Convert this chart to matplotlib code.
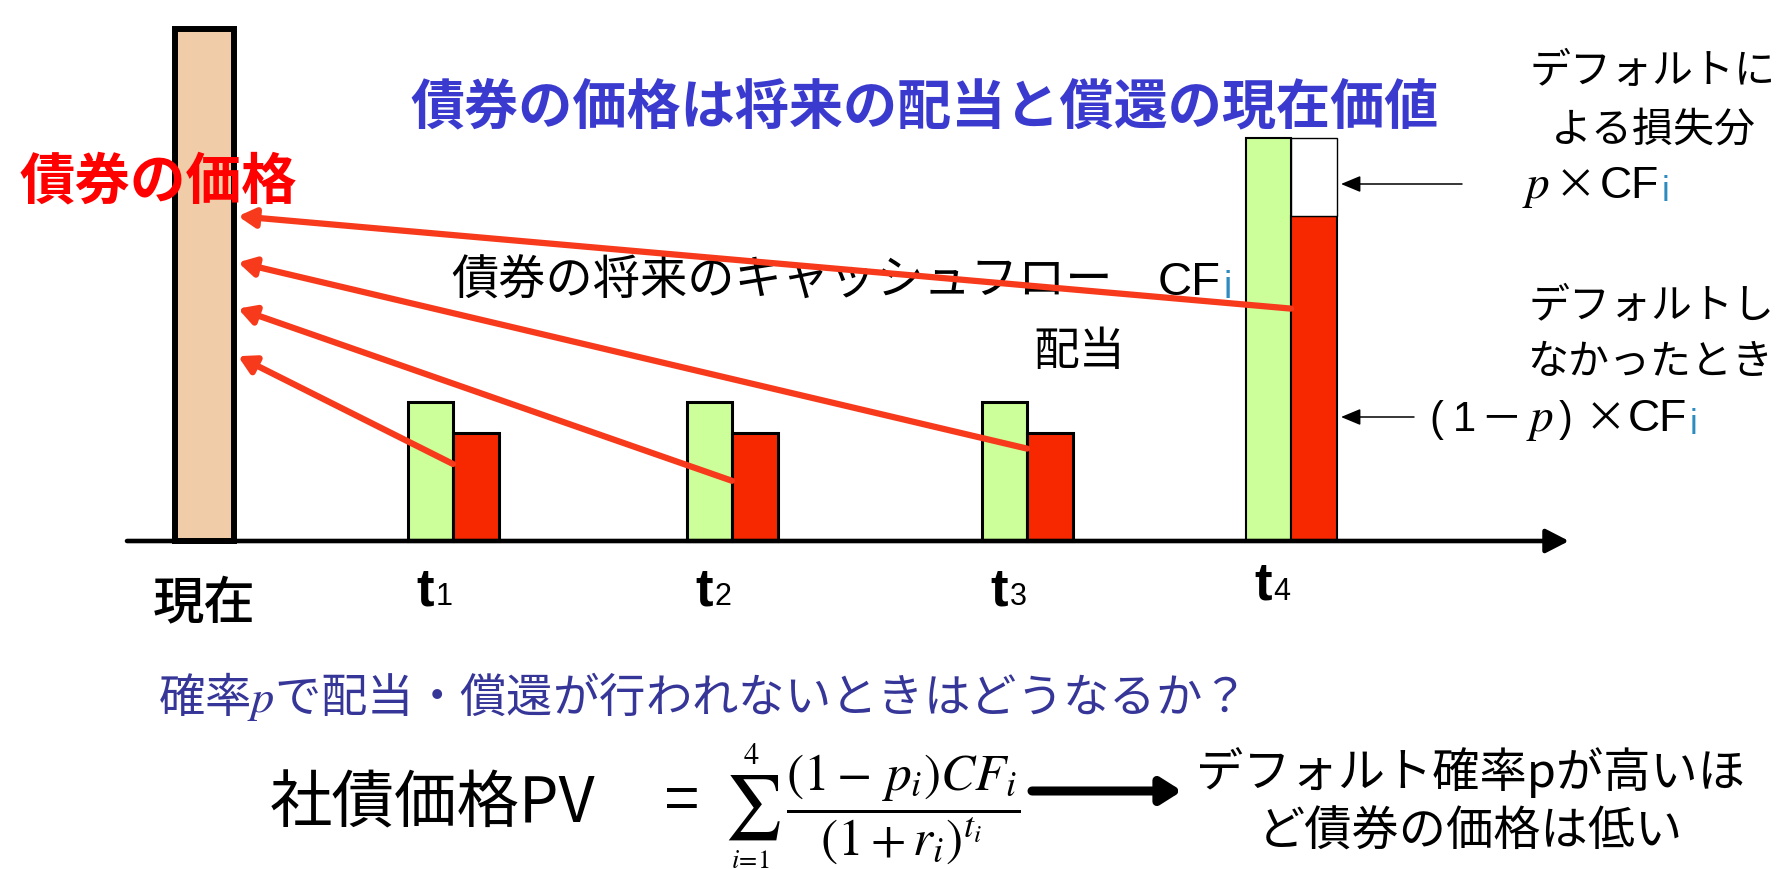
import matplotlib
matplotlib.use('Agg')
import matplotlib.pyplot as plt

plt.rcParams['font.family'] = ['Noto Sans CJK JP', 'DejaVu Sans']
plt.rcParams['mathtext.fontset'] = 'stix'

# ---------------- data ----------------
period_labels = ['現在', 't', 't', 't', 't']
period_subs = ['', '1', '2', '3', '4']
price = 36.6                       # current bond price
cash_flow = [9.9, 9.9, 9.9, 28.8]  # promised cash flows CF_i
survive_cf = [7.7, 7.7, 7.7, 23.2] # (1-p) x CF_i

# ---------------- layout ----------------
period_x = [2.045, 4.53, 7.32, 10.27, 12.91]
arrow_from = [5.5, 4.3, 6.6, 16.6]
arrow_to = [13.2, 16.6, 19.9, 23.2]

W, H = 1786, 870
BASE = 542
UNIT = 14.0

GREEN = '#CCFF99'
RED = '#F72800'
ARROW_RED = '#F83A1C'
PEACH = '#F0CCA8'
TITLE_BLUE = '#3A3ACF'
Q_BLUE = '#363699'
I_BLUE = '#2E8BC0'

fig = plt.figure(figsize=(W / 100, H / 100), dpi=100)
ax = fig.add_axes([0, 0, 1, 1])
ax.set_xlim(0, W / 100)
ax.set_ylim(-(H - BASE) / UNIT, BASE / UNIT)
ax.axis('off')


def px(x, y):
    return x / 100, (BASE - y) / UNIT


renderer = fig.canvas.get_renderer()


def chain(x, y, parts):
    cur = x
    for s, kw, gap, dy in parts:
        cur += gap
        t = ax.text(*px(cur, y + dy), s, ha='left', va='baseline', **kw)
        bb = t.get_window_extent(renderer)
        cur += bb.width
    return cur


def place(y, parts):
    # parts: (text, x, ha, kwargs, dy)
    for s, x, ha, kw, dy in parts:
        ax.text(*px(x, y + dy), s, ha=ha, va='baseline', **kw)


JP = dict(family=['Noto Sans CJK JP'])
LAT = dict(family=['Liberation Sans'])

# ---------------- bars ----------------
pw = 0.59
ax.bar(period_x[0], price, width=pw, color=PEACH, edgecolor='black',
       linewidth=4.3, zorder=2)
bw = 0.455
for i, (x, cf, sv) in enumerate(zip(period_x[1:], cash_flow, survive_cf)):
    lw = 2.2 if i < 3 else 1.5
    ax.bar(x, cf, width=-bw, align='edge', color=GREEN, edgecolor='black',
           linewidth=lw, zorder=2)
    ax.bar(x, sv, width=bw, align='edge', color=RED, edgecolor='black',
           linewidth=lw, zorder=2)
    if i == 3:
        ax.bar(x, cf - sv, bottom=sv, width=bw, align='edge', color='white',
               edgecolor='black', linewidth=1.0, zorder=2)

# time axis
ax.annotate('', xy=(15.69, 0), xytext=(1.27, 0),
            arrowprops=dict(arrowstyle='-|>,head_length=0.7,head_width=0.36',
                            lw=3.3, color='black', shrinkA=0, shrinkB=0,
                            mutation_scale=20), zorder=3)

# discounting arrows
tip_x = period_x[0] + pw / 2 + 0.04
for x, h0, h1 in zip(period_x[1:], arrow_from, arrow_to):
    ax.annotate('', xy=(tip_x, h1), xytext=(x, h0),
                arrowprops=dict(arrowstyle='-|>,head_length=0.5,head_width=0.28',
                                lw=4.5, color=ARROW_RED, shrinkA=0, shrinkB=0,
                                mutation_scale=20), zorder=4)

# thin pointer arrows
for yy, x0 in [(185, 1462), (418, 1414)]:
    ax.annotate('', xy=px(1341, yy), xytext=px(x0, yy),
                arrowprops=dict(arrowstyle='-|>,head_length=0.6,head_width=0.25',
                                lw=1.1, color='black', shrinkA=0, shrinkB=0,
                                mutation_scale=20), zorder=4)

# ---------------- texts ----------------
ax.text(*px(410, 108), '債券の価格は将来の配当と償還の現在価値', fontsize=39,
        fontweight='bold', color=TITLE_BLUE, ha='left', va='center', **JP)
ax.text(*px(20, 182), '債券の価格', fontsize=40, fontweight='bold',
        color='#FF0000', ha='left', va='center', zorder=6, **JP)

chain(451, 295, [
    ('債券の将来のキャッシュフロー', dict(fontsize=34, **JP), 0, 0),
    ('CF', dict(fontsize=34, **LAT), 45, 0),
    ('i', dict(fontsize=27, color=I_BLUE, **LAT), 3, 3),
])

ax.text(*px(1033, 352), '配当', fontsize=33, ha='left', va='center', **JP)

# period labels
ax.text(period_x[0], px(0, 603)[1], period_labels[0], fontsize=37,
        fontweight='medium', ha='center', va='center', **JP)
for i in range(1, 5):
    by = 605 if i < 4 else 600
    chain(period_x[i] * 100 - 37, by, [
        (period_labels[i], dict(fontsize=38, fontweight='bold', **LAT), 0, 0),
        (period_subs[i], dict(fontsize=22, **LAT), 2, 0),
    ])

# right-side labels
ax.text(*px(1653, 72), 'デフォルトに', fontsize=29.5, ha='center', va='center', **JP)
ax.text(*px(1653, 130), 'よる損失分', fontsize=29.5, ha='center', va='center', **JP)
place(198, [
    ('$p$', 1536, 'center', dict(fontsize=34), 0),
    ('×', 1575, 'center', dict(fontsize=30, **JP), 0),
])
chain(1600, 198, [
    ('CF', dict(fontsize=32, **LAT), 0, 0),
    ('i', dict(fontsize=25, color=I_BLUE, **LAT), 2, 3),
])
ax.text(*px(1652, 307), 'デフォルトし', fontsize=29.5, ha='center', va='center', **JP)
ax.text(*px(1650, 362), 'なかったとき', fontsize=29.5, ha='center', va='center', **JP)
place(431, [
    ('(', 1436, 'center', dict(fontsize=30, **LAT), 0),
    ('1', 1464, 'center', dict(fontsize=30, **LAT), 0),
    ('－', 1501, 'center', dict(fontsize=30, **JP), 0),
    ('$p$', 1540, 'center', dict(fontsize=34), 0),
    (')', 1566, 'center', dict(fontsize=30, **LAT), 0),
    ('×', 1605, 'center', dict(fontsize=30, **JP), 0),
])
chain(1628, 431, [
    ('CF', dict(fontsize=32, **LAT), 0, 0),
    ('i', dict(fontsize=25, color=I_BLUE, **LAT), 2, 3),
])

# question
ax.text(*px(158, 697), '確率$p$で配当・償還が行われないときはどうなるか？',
        fontsize=33.4, color=Q_BLUE, ha='left', va='center', **JP)

# formula
ax.text(*px(270, 805), '社債価格PV', fontsize=45, ha='left', va='center', **JP)
ax.text(*px(682, 802), '=', fontsize=44, ha='center', va='center', **LAT)
ax.text(*px(752, 808), r'$\sum$', fontsize=46, ha='center', va='center')
ax.text(*px(751, 756), r'$4$', fontsize=22, ha='center', va='center')
ax.text(*px(751, 860), r'$i\!=\!1$', fontsize=19, ha='center', va='center')
ax.text(*px(903, 810), r'$\dfrac{(1-\,p_{i})CF_{i}}{(1+r_{i})^{t_{i}}}$',
        fontsize=37, ha='center', va='center')

ax.annotate('', xy=px(1182, 792), xytext=px(1032, 792),
            arrowprops=dict(arrowstyle='-|>,head_length=0.6,head_width=0.38',
                            lw=6.5, color='black', shrinkA=0, shrinkB=0,
                            mutation_scale=20))

ax.text(*px(1470, 773), 'デフォルト確率pが高いほ', fontsize=34, ha='center',
        va='center', **JP)
ax.text(*px(1470, 832), 'ど債券の価格は低い', fontsize=34, ha='center',
        va='center', **JP)

fig.savefig('out.png', dpi=100)
